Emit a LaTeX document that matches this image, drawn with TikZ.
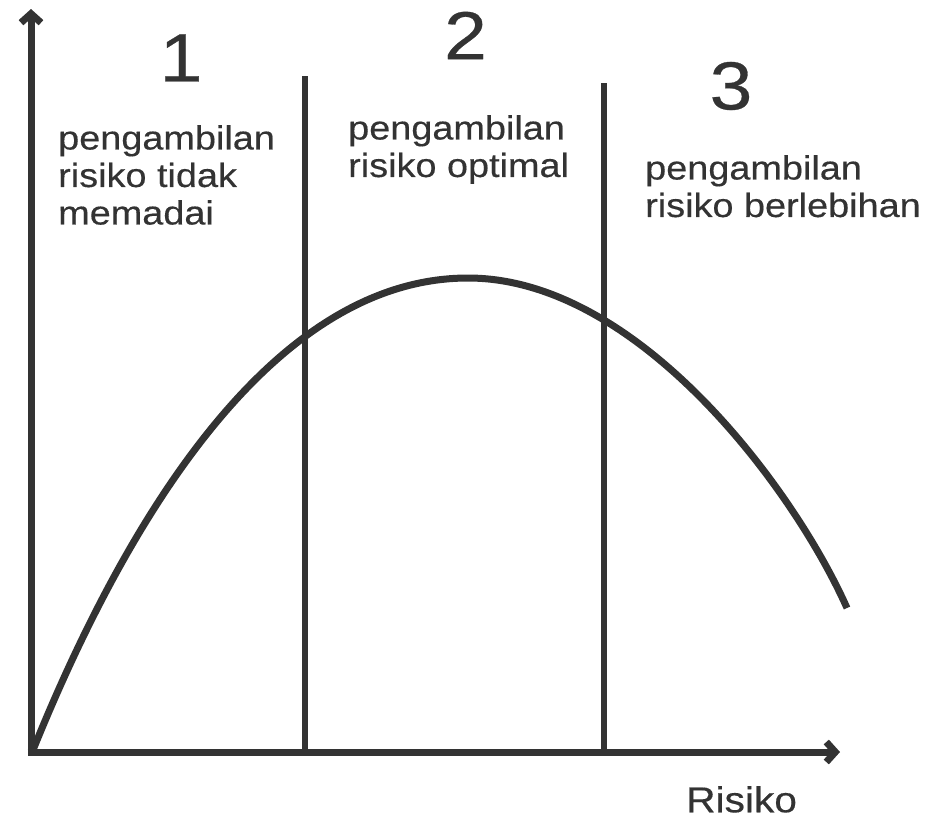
\documentclass[tikz,border=0pt]{standalone}
\usepackage{fontspec}
\setmainfont{Liberation Sans}[FakeStretch=1.13,FakeBold=0.4]
\usetikzlibrary{arrows.meta}
\definecolor{ink}{HTML}{333333}
\begin{document}
\begin{tikzpicture}[x=1pt,y=-1pt,
  axis/.style={draw=ink, line width=7pt, -{Straight Barb[length=9pt,width=20pt]}},
  divider/.style={draw=ink, line width=6pt},
  curve/.style={draw=ink, line width=7pt},
  lbl/.style={text=ink, inner sep=0pt, anchor=north west, align=left, font=\fontsize{33.5}{37.5}\selectfont},
  zone/.style={text=ink, inner sep=0pt, font=\fontsize{68}{70}\selectfont}]
\useasboundingbox (0,0) rectangle (940,820);
% axes
\coordinate (Ox) at (27.5,752);
\coordinate (Oy) at (31,755.5);
\coordinate (ytip) at (31,9);
\coordinate (xtip) at (840,752);
\draw[axis] (Oy) -- (ytip);
\draw[axis] (Ox) -- (xtip);
% dividers
\coordinate (d1b) at (305,752);
\coordinate (d1t) at (305,76);
\coordinate (d2b) at (604,752);
\coordinate (d2t) at (604,83);
\draw[divider] (d1b) -- (d1t);
\draw[divider] (d2b) -- (d2t);
% curve
\coordinate (c0) at (33,750);
\coordinate (peak) at (468,278);
\coordinate (cend) at (847,608);
\draw[curve] (c0) .. controls (122,530) and (268,278) .. (peak)
             .. controls (638,278) and (794,489) .. (cend);
% labels
\node[zone] (n1) at (181,58) {1};
\node[zone] (n2) at (465.5,35.5) {2};
\node[zone] (n3) at (731,86) {3};
\node[lbl] (t1) at (58,125) {pengambilan\\risiko tidak\\memadai};
\node[lbl] (t2) at (348,115) {pengambilan\\risiko optimal};
\node[lbl] (t3) at (645,155) {pengambilan\\risiko berlebihan};
\node[lbl, font=\fontsize{36}{40}\selectfont] (xl) at (686,786) {Risiko};
\end{tikzpicture}
\end{document}
